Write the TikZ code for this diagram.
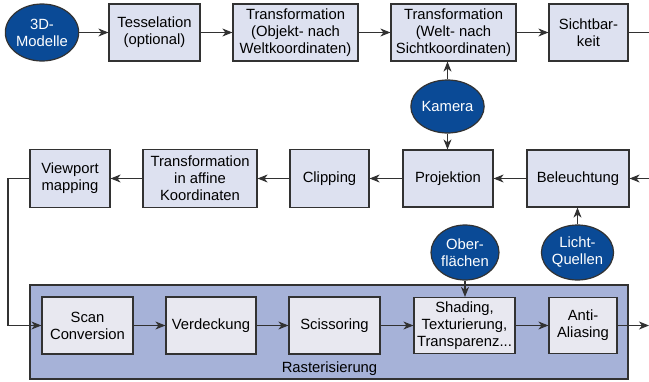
\documentclass[tikz,border=0pt]{standalone}
\usepackage{fontspec}
\setmainfont{Liberation Sans}
\usetikzlibrary{arrows.meta,shapes.geometric}
\definecolor{boxfill}{RGB}{221,225,240}
\definecolor{innerfill}{RGB}{232,232,240}
\definecolor{rasterfill}{RGB}{166,178,216}
\definecolor{ellfill}{RGB}{10,74,150}
\definecolor{edge}{RGB}{50,50,50}
\tikzset{
  stagebox/.style={draw=edge, fill=boxfill, line width=1.2pt, align=center, inner sep=0pt,
    font=\fontsize{14.8pt}{17pt}\selectfont},
  innerbox/.style={stagebox, fill=innerfill},
  source/.style={ellipse, draw=edge, fill=ellfill, line width=1.2pt, align=center, inner sep=0pt,
    text=white, font=\fontsize{14.8pt}{17pt}\selectfont},
  flow/.style={draw=edge, line width=1.1pt, -{Stealth[length=10pt,width=8pt,inset=3pt]}},
  plainline/.style={draw=edge, line width=1.1pt}
}
\begin{document}
\begin{tikzpicture}[x=1pt,y=-1pt]
\useasboundingbox (0,0) rectangle (649,381);
% Rasterisierung container
\node[draw=edge, fill=rasterfill, line width=1.2pt, minimum width=598pt, minimum height=94pt, inner sep=0pt] (raster) at (329,332) {};
\node[font=\fontsize{14.8pt}{17pt}\selectfont, inner sep=0pt] (rlabel) at (329.5,369) {Rasterisierung};
% Row 1
\node[source, minimum width=68pt, minimum height=57pt] (modelle) at (42,32.5) {3D-\\Modelle};
\node[stagebox, minimum width=91pt, minimum height=57pt] (tess) at (154.5,32.5) {Tesselation\\(optional)};
\node[stagebox, minimum width=125pt, minimum height=57pt] (tobj) at (295.5,32.5) {Transformation\\(Objekt- nach\\Weltkoordinaten)};
\node[stagebox, minimum width=125pt, minimum height=57pt] (twelt) at (453.5,32.5) {Transformation\\(Welt- nach\\Sichtkoordinaten)};
\node[stagebox, minimum width=79pt, minimum height=57pt] (sicht) at (588.5,32.5) {Sichtbar-\\keit};
\node[source, minimum width=65pt, minimum height=53pt] (kamera) at (447.5,106.5) {Kamera};
% Row 2
\node[stagebox, minimum width=80pt, minimum height=58pt] (view) at (70,178.5) {Viewport\\mapping};
\node[stagebox, minimum width=114pt, minimum height=58pt] (taff) at (200,178.5) {Transformation\\in affine\\Koordinaten};
\node[stagebox, minimum width=79pt, minimum height=58pt] (clip) at (329.5,178.5) {Clipping};
\node[stagebox, minimum width=90pt, minimum height=57pt] (proj) at (448,178.5) {Projektion};
\node[stagebox, minimum width=102pt, minimum height=57pt] (bel) at (578,178.5) {Beleuchtung};
\node[source, minimum width=68pt, minimum height=55pt] (ober) at (465,252.5) {Ober-\\flächen};
\node[source, minimum width=69pt, minimum height=55pt] (licht) at (577.5,252.5) {Licht-\\Quellen};
% Row 3
\node[innerbox, minimum width=91pt, minimum height=57pt] (scan) at (87.5,325.5) {Scan\\Conversion};
\node[innerbox, minimum width=90pt, minimum height=57pt] (verd) at (211,325.5) {Verdeckung};
\node[innerbox, minimum width=91pt, minimum height=57pt] (sciss) at (334.5,325.5) {Scissoring};
\node[innerbox, minimum width=101pt, minimum height=56pt] (shade) at (464.5,325.5) {Shading,\\Texturierung,\\Transparenz...};
\node[innerbox, minimum width=68pt, minimum height=56pt] (anti) at (583,325.5) {Anti-\\Aliasing};
% free ends
\coordinate (out1) at (649,32.5);
\coordinate (in2) at (649,178.5);
\coordinate (out3) at (649,325.5);
\coordinate (bend) at (8,178.5);
% connectors
\draw[flow] (modelle) -- (tess);
\draw[flow] (tess) -- (tobj);
\draw[flow] (tobj) -- (twelt);
\draw[flow] (twelt) -- (sicht);
\draw[plainline] (sicht) -- (out1);
\draw[flow] (in2) -- (bel);
\draw[flow] (bel) -- (proj);
\draw[flow] (proj) -- (clip);
\draw[flow] (clip) -- (taff);
\draw[flow] (taff) -- (view);
\draw[flow] (view.west) -- (bend) |- (scan.west);
\draw[flow] (scan) -- (verd);
\draw[flow] (verd) -- (sciss);
\draw[flow] (sciss) -- (shade);
\draw[flow] (shade) -- (anti);
\draw[flow] (anti) -- (out3);
\draw[flow] (kamera.north) -- (kamera.north |- twelt.south);
\draw[flow] (kamera.south) -- (kamera.south |- proj.north);
\draw[flow] (licht.north) -- (licht.north |- bel.south);
\draw[flow] (ober.south) -- (ober.south |- shade.north);
\end{tikzpicture}
\end{document}
